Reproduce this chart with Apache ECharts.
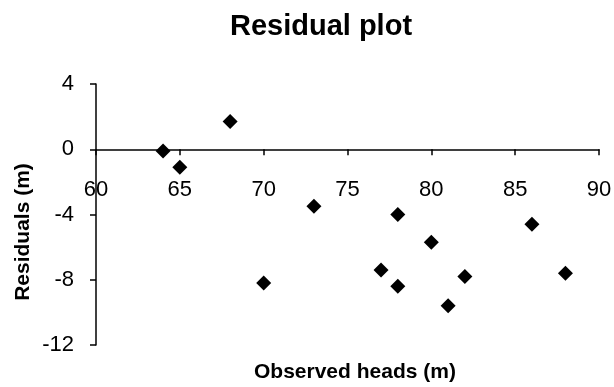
<!DOCTYPE html>
<html>
<head>
<meta charset="utf-8">
<script src="https://cdn.jsdelivr.net/npm/echarts@6/dist/echarts.min.js"></script>
<style>
  html, body { margin: 0; padding: 0; background: #fff; }
  #chart { width: 614px; height: 387px; }
</style>
</head>
<body>
<div id="chart"></div>
<script>
// observed heads (m) and their residuals (m)
var observedHeads = [64, 65, 68, 70, 73, 77, 78, 78, 80, 81, 82, 86, 88];
var residuals     = [-0.1, -1.1, 1.7, -8.2, -3.5, -7.4, -4.0, -8.4, -5.7, -9.6, -7.8, -4.6, -7.6];
var xTicks = [60, 65, 70, 75, 80, 85, 90];
var yTicks = [-12, -8, -4, 0, 4];

var FONT = "'Liberation Sans', Arial, sans-serif";

var points = [];
for (var i = 0; i < observedHeads.length; i++) {
    points.push([observedHeads[i], residuals[i]]);
}

// grid box in pixels
var gridTop = 84, gridBottom = 42, chartH = 387;
var gridH = chartH - gridTop - gridBottom;
var yMin = yTicks[0], yMax = yTicks[yTicks.length - 1];
// lift the x axis (line, ticks, labels) up to y = 0
var zeroOffset = -gridH * (0 - yMin) / (yMax - yMin);

var myChart = echarts.init(document.getElementById("chart"));
var option = {
    backgroundColor: "#fff",
    animation: false,
    title: {
        text: "Residual plot",
        left: 316,
        top: 7,
        textAlign: "center",
        textStyle: { fontFamily: FONT, fontSize: 29, fontWeight: "bold", color: "#000" }
    },
    grid: { left: 96, right: 15, top: gridTop, bottom: gridBottom, containLabel: false, outerBoundsMode: "none" },
    xAxis: {
        type: "value",
        min: xTicks[0],
        max: xTicks[xTicks.length - 1],
        interval: 5,
        position: "bottom",
        offset: zeroOffset,
        axisLine: { onZero: false, lineStyle: { color: "#000", width: 1.5 } },
        axisTick: { show: true, inside: false, length: 6, lineStyle: { color: "#000", width: 1.5 } },
        axisLabel: { margin: 30, fontFamily: FONT, fontSize: 22, color: "#000" },
        splitLine: { show: false }
    },
    yAxis: {
        type: "value",
        min: yMin,
        max: yMax,
        interval: 4,
        axisLine: { show: true, onZero: false, lineStyle: { color: "#000", width: 1.5 } },
        axisTick: { show: true, length: 6, lineStyle: { color: "#000", width: 1.5 } },
        axisLabel: { margin: 22, fontFamily: FONT, fontSize: 22, color: "#000" },
        splitLine: { show: false }
    },
    graphic: [
        {
            type: "text",
            left: 254,
            top: 362,
            style: { text: "Observed heads (m)", font: "bold 21px " + FONT, fill: "#000" }
        },
        {
            type: "text",
            x: 23,
            y: 232,
            rotation: Math.PI / 2,
            style: { text: "Residuals (m)", font: "bold 21px " + FONT, fill: "#000", align: "center", verticalAlign: "middle" }
        }
    ],
    series: [{
        type: "scatter",
        data: points,
        symbol: "diamond",
        symbolSize: 15,
        itemStyle: { color: "#000", opacity: 1 }
    }]
};
myChart.setOption(option);
</script>
</body>
</html>
